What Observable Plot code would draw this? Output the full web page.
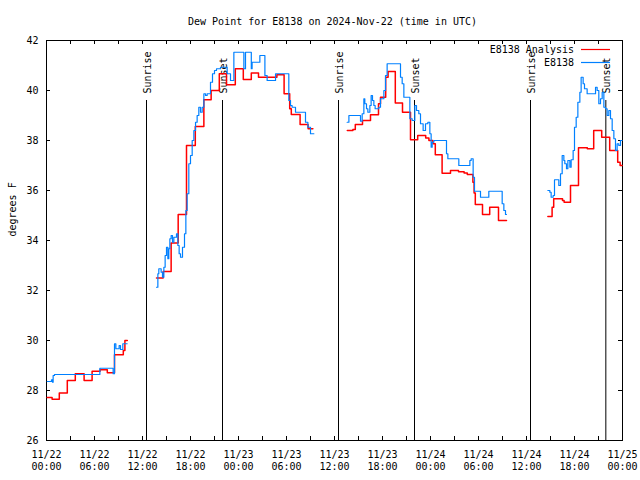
<!DOCTYPE html>
<html>
<head>
<meta charset="utf-8">
<script src="https://cdn.jsdelivr.net/npm/d3@7"></script>
<script src="https://cdn.jsdelivr.net/npm/@observablehq/plot@0.6"></script>
<style>
  html, body { margin: 0; padding: 0; background: #fff; }
</style>
</head>
<body>
<div id="chart"></div>
<script>
// ---- data (hours after 2024-11-22 00:00 UTC; null = gap) ----
const startUTC = "2024-11-22T00:00Z";
const endUTC = "2024-11-25T00:00Z";

const analysisHours = [0.08,0.7,1.6,2.6,3.6,4.7,5.7,6.7,7.6,8.5,9.6,9.8,10.1, 10.2,
  13.75,14.58,15.58,16.46,17.5,18.6,19.67,20.58,21.6,22.5,23.6,24.6,25.6,26.5,28.8,29.7,30.4,30.6,31.7,32.7,33.3, 33.4,
  37.6,38.3,38.6,39.5,40.5,41.5,41.75,42.4,42.7,43.6,44.5,45.5,46.4,47.4,47.8,48.3,48.6,49.45,50.5,51.5,52.2,52.6,53.3,53.45,53.6,54.5,55.4,56.5,57.5, 57.6,
  62.67,63.2,63.4,64.5,64.7,65.5,66.5,67.6,68.4,69.4,70.4,71.4,71.7,71.95];
const analysisDewpoint = [27.72,27.65,27.9,28.4,28.67,28.4,28.77,28.83,28.71,29.43,29.6,30.0,30.0, null,
  32.5,32.76,33.9,35.04,37.8,38.56,39.63,40.0,40.67,40.23,40.87,40.44,40.7,40.53,40.63,39.87,39.27,39.04,38.64,38.47,38.47, null,
  38.4,38.44,38.64,38.8,39.03,39.47,39.73,40.53,40.76,39.5,39.13,38.03,38.2,38.1,38.0,37.87,37.43,36.69,36.8,36.75,36.7,36.64,36.33,35.9,35.44,35.04,35.33,34.8,34.8, null,
  34.96,35.33,35.67,35.6,35.53,36.2,37.71,37.67,38.4,38.13,37.6,37.13,37.0,37.0];

const stationHours = [0.08,0.62,0.75,0.83,1.0,6.67,8.33,8.5,8.67,9.08,9.25,9.54,10.08, 10.2,
  13.75,13.92,14.04,14.33,14.5,14.67,14.83,15.0,15.17,15.29,15.42,15.58,15.75,15.92,16.25,16.42,16.58,16.75,17.0,17.25,17.42,17.58,17.79,18.0,18.21,18.42,18.63,18.83,19.04,19.25,19.46,19.67,19.88,20.08,20.5,20.75,21.0,21.25,21.75,22.58,23.0,23.42,24.67,24.875,25.6,25.7,26.67,27.3,27.58,28.63,30.29,30.5,30.7,31.125,32.375,32.67,33.0,33.42, 33.5,
  37.58,37.8,39.25,39.46,39.67,39.79,40.0,40.17,40.42,40.58,40.75,40.92,41.08,41.54,41.75,42.17,42.375,42.58,44.25,44.46,44.67,45.42,45.71,46.04,46.25,46.54,46.75,47.08,47.375,47.67,47.92,48.08,48.21,48.42,50.0,50.17,51.54,52.92,53.08,53.33,53.5,54.25,55.29,56.96,57.17,57.375,57.5, 57.6,
  62.67,62.92,63.08,63.33,63.5,64.04,64.25,64.46,64.67,64.79,65.0,65.17,65.42,65.58,65.83,66.0,66.21,66.42,66.67,66.83,67.08,67.25,67.58,68.63,68.83,69.04,69.25,69.46,69.67,69.875,70.08,70.29,70.5,70.71,70.92,71.125,71.33,71.54,71.75,71.95];
const stationDewpoint = [28.36,28.43,28.33,28.6,28.64,28.89,28.67,29.87,29.67,29.8,29.64,29.87,29.87, null,
  32.13,32.67,32.87,32.73,32.53,32.93,33.4,33.73,33.27,33.67,34.07,34.2,33.93,34.13,34.27,33.8,33.47,33.33,33.73,34.27,35.2,35.87,37.07,37.4,38.0,38.4,38.73,39.0,39.33,39.13,39.33,39.87,39.8,39.87,40.33,40.67,40.8,40.87,40.93,40.67,40.4,41.53,40.87,41.53,40.87,41.13,41.4,40.6,40.4,40.67,39.6,39.4,39.33,39.13,38.73,38.53,38.27,38.27, null,
  38.73,39.0,38.77,39.07,39.67,39.47,39.27,39.13,39.4,39.8,39.6,39.4,39.27,39.33,39.67,40.0,40.6,41.07,40.53,40.27,39.73,38.87,38.8,39.4,39.2,39.07,38.67,38.4,38.67,38.73,38.27,37.73,37.93,38.0,37.47,37.27,37.0,37.2,37.27,36.53,35.97,35.73,35.97,35.47,35.2,35.04,35.04, null,
  36.0,35.93,35.73,35.8,36.43,36.2,36.67,37.4,37.2,37.07,36.87,37.2,36.93,37.23,37.6,38.53,38.93,39.53,39.93,40.53,40.27,40.07,39.87,40.13,40.0,39.47,39.67,39.93,39.33,39.27,39.0,39.2,38.87,38.4,38.07,37.6,37.87,37.8,38.0,38.0];

const sunTimes = ["2024-11-22T12:30Z","2024-11-22T22:00Z","2024-11-23T12:30Z","2024-11-23T22:00Z","2024-11-24T12:30Z","2024-11-24T21:55Z"];
const sunLabels = ["Sunrise","Sunset","Sunrise","Sunset","Sunrise","Sunset"];

const yTicks = [26,28,30,32,34,36,38,40,42];
const xLabelEveryHours = 6;
const xTickEveryHours = 3;

const titleText = "Dew Point for E8138 on 2024-Nov-22 (time in UTC)";
const yLabelText = "degrees F";
const seriesNames = ["E8138 Analysis", "E8138"];
const seriesColors = ["#ff0000", "#0080ff"];

// ---- build tables ----
const t0 = new Date(startUTC).getTime();
const toDate = h => new Date(t0 + h * 3600e3);
const analysis = analysisHours.map((h, i) => ({time: toDate(h), value: analysisDewpoint[i]}));
const station = stationHours.map((h, i) => ({time: toDate(h), value: stationDewpoint[i]}));
const sun = sunTimes.map((t, i) => ({time: new Date(t), label: sunLabels[i]}));
const xTicks = d3.utcHour.every(xTickEveryHours).range(new Date(startUTC), new Date(new Date(endUTC).getTime() + 1));
const xLabels = d3.utcHour.every(xLabelEveryHours).range(new Date(startUTC), new Date(new Date(endUTC).getTime() + 1));

const FONT = "DejaVu Sans Mono";

function legendMark() {
  const g = d3.create("svg:g")
    .attr("font-family", FONT)
    .attr("font-size", 10);
  seriesNames.forEach((name, i) => {
    const y = 50 + i * 13;
    g.append("text").attr("x", 574).attr("y", y).attr("dy", "0.32em")
      .attr("text-anchor", "end").attr("fill", "black").text(name);
    g.append("line").attr("x1", 581).attr("x2", 610).attr("y1", y - 0.5).attr("y2", y - 0.5)
      .attr("stroke", seriesColors[i]).attr("stroke-width", 1.2);
  });
  return g.node();
}

const chart = Plot.plot({
  width: 640,
  height: 480,
  marginLeft: 46,
  marginRight: 18,
  marginTop: 40,
  marginBottom: 40,
  style: {fontFamily: FONT, fontSize: "10px", background: "white", color: "black"},
  x: {type: "utc", domain: [new Date(startUTC), new Date(endUTC)], label: null},
  y: {domain: [26, 42], label: null},
  marks: [
    Plot.frame({stroke: "black"}),
    // inward ticks
    Plot.ruleX(xTicks, {x: d => d, insetTop: 396, stroke: "black"}),
    Plot.ruleX(xTicks, {x: d => d, insetBottom: 396, stroke: "black"}),
    Plot.ruleY(yTicks, {y: d => d, insetRight: 572, stroke: "black"}),
    Plot.ruleY(yTicks, {y: d => d, insetLeft: 572, stroke: "black"}),
    Plot.axisX(xLabels, {
      tickSize: 0, tickPadding: 9, fontSize: 10, lineHeight: 1.2,
      tickFormat: d3.utcFormat("%m/%d\n%H:%M"), label: null
    }),
    Plot.axisY(yTicks, {tickSize: 0, tickPadding: 8, fontSize: 10, label: null}),
    // sunrise / sunset
    Plot.ruleX(sun, {x: "time", insetTop: 60, stroke: "black"}),
    Plot.text(sun, {x: "time", text: "label", frameAnchor: "top", rotate: -90,
      textAnchor: "start", dy: 53, dx: -3, fontSize: 10, fill: "black"}),
    // series
    Plot.line(analysis, {x: "time", y: "value", curve: "step-after", stroke: seriesColors[0], strokeWidth: 1.5}),
    Plot.line(station, {x: "time", y: "value", curve: "step-after", stroke: seriesColors[1], strokeWidth: 1.2}),
    // title and y label
    Plot.text([titleText], {text: d => d, frameAnchor: "top", dy: -23, dx: -2, fontSize: 10, fill: "black"}),
    Plot.text([yLabelText], {text: d => d, frameAnchor: "left", rotate: -90, dx: -34, dy: -4, fontSize: 10, fill: "black"}),
    legendMark
  ]
});
document.getElementById("chart").appendChild(chart);
</script>
</body>
</html>
